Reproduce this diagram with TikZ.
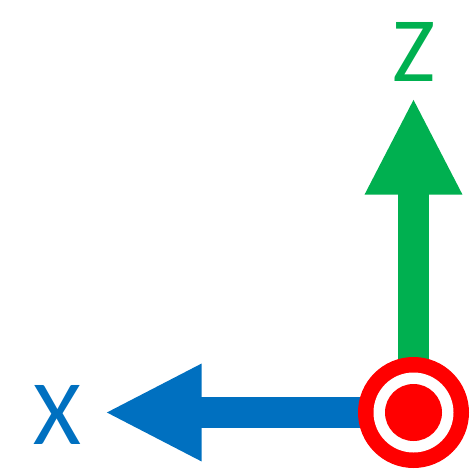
\documentclass[tikz,border=0pt]{standalone}
\usepackage{fontspec}
\setmainfont{Carlito}
\usetikzlibrary{arrows.meta,positioning}

\definecolor{axisgreen}{HTML}{00B050}
\definecolor{axisblue}{HTML}{0070C0}
\definecolor{axisred}{HTML}{FF0000}

\tikzset{
  axis/.style={line width=31.5pt, -{Triangle[length=97pt,width=90pt]}},
  axislabel/.style={inner sep=0pt, font=\fontsize{92}{92}\selectfont}
}

\begin{document}
\begin{tikzpicture}[x=1pt,y=-1pt]
            \useasboundingbox (0,0) rectangle (470,470);

            % Origin and arrow ends
            \coordinate (o) at (413.5,412.5);
            \coordinate (ztip) at (413.5,97.5);
            \coordinate (xtip) at (104.5,412.5);

            % Draw Axes
            \draw[axis, axisgreen] (o) -- (ztip);
            \draw[axis, axisblue] (o) -- (xtip);

            % Axis pointing out of the page
            \node[circle, fill=axisred, minimum size=111pt, inner sep=0pt] (ring) at (o) {};
            \node[circle, fill=white, minimum size=80pt, inner sep=0pt] (gap) at (o) {};
            \node[circle, fill=axisred, minimum size=57pt, inner sep=0pt] (dot) at (o) {};

            % Label Axes
            \node[axislabel, text=axisgreen] (zlabel) at (414,51.5) {Z};
            \node[axislabel, text=axisblue] (xlabel) at (57.5,414.5) {X};
\end{tikzpicture}
\end{document}
